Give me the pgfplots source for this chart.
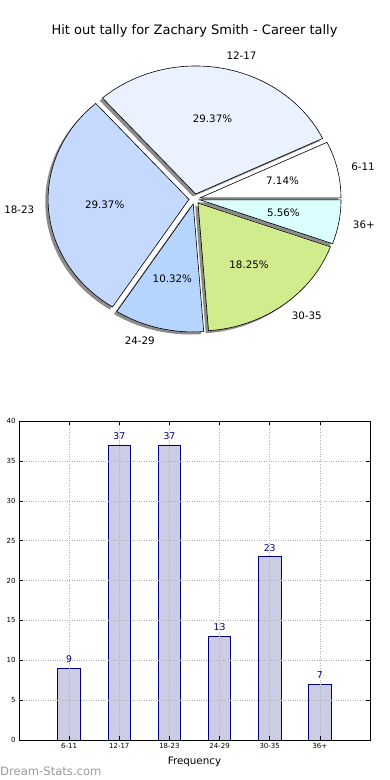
\documentclass[border=0pt]{standalone}
\usepackage{pgfplots}
\pgfplotsset{compat=1.18}
\usepackage{pgfplotstable}
\usepackage{fontspec}
\setmainfont{DejaVu Sans}
\definecolor{c611}{HTML}{FFFFFF}
\definecolor{c1217}{HTML}{EBF2FF}
\definecolor{c1823}{HTML}{C5D9FF}
\definecolor{c2429}{HTML}{B5D5FF}
\definecolor{c3035}{HTML}{D0EC8C}
\definecolor{c36}{HTML}{DBFFFF}
\definecolor{barfill}{HTML}{CCCCE5}
\definecolor{navyc}{HTML}{000080}
\definecolor{wm}{HTML}{9A9A9A}

\pgfplotstableread{
pos val
1 9
2 37
3 37
4 13
5 23
6 7
}\hitdata

\newcommand\shadowslice[2]{%
  \fill[black!45] (axis cs:{0.04*cos((#1+#2)/2)-0.02},{0.04*sin((#1+#2)/2)-0.02})
    -- (axis cs:{0.04*cos((#1+#2)/2)-0.02+cos(#1)},{0.04*sin((#1+#2)/2)-0.02+sin(#1)})
    arc[start angle=#1,end angle=#2,x radius=140.9pt,y radius=128pt] -- cycle;}
\newcommand\pieslice[3]{%
  \filldraw[fill=#3, draw=black, line width=0.6pt, line join=miter] (axis cs:{0.04*cos((#1+#2)/2)},{0.04*sin((#1+#2)/2)})
    -- (axis cs:{0.04*cos((#1+#2)/2)+cos(#1)},{0.04*sin((#1+#2)/2)+sin(#1)})
    arc[start angle=#1,end angle=#2,x radius=140.9pt,y radius=128pt] -- cycle;}
\newcommand\pielabel[5]{%
  \node[anchor=#5, inner sep=0pt, font=\fontsize{10.3}{12}\selectfont] at (axis cs:{1.14*cos((#1+#2)/2)},{1.14*sin((#1+#2)/2)}) {#3};
  \node[inner sep=0pt, font=\fontsize{10.3}{12}\selectfont] at (axis cs:{0.64*cos((#1+#2)/2)},{0.64*sin((#1+#2)/2)}) {#4};}

\begin{document}
\begin{tikzpicture}[x=1pt,y=1pt]
\path[use as bounding box] (0,0) rectangle (390,780);
\pgfplotstablegetelem{0}{val}\of\hitdata\edef\vA{\pgfplotsretval}
\pgfplotstablegetelem{1}{val}\of\hitdata\edef\vB{\pgfplotsretval}
\pgfplotstablegetelem{2}{val}\of\hitdata\edef\vC{\pgfplotsretval}
\pgfplotstablegetelem{3}{val}\of\hitdata\edef\vD{\pgfplotsretval}
\pgfplotstablegetelem{4}{val}\of\hitdata\edef\vE{\pgfplotsretval}
\pgfplotstablegetelem{5}{val}\of\hitdata\edef\vF{\pgfplotsretval}
\pgfmathsetmacro\tot{\vA+\vB+\vC+\vD+\vE+\vF}
\pgfmathsetmacro\aA{0}
\pgfmathsetmacro\aB{360*\vA/\tot}
\pgfmathsetmacro\aC{\aB+360*\vB/\tot}
\pgfmathsetmacro\aD{\aC+360*\vC/\tot}
\pgfmathsetmacro\aE{\aD+360*\vD/\tot}
\pgfmathsetmacro\aF{\aE+360*\vE/\tot}
\pgfmathsetmacro\aG{\aF+360*\vF/\tot}

\node[font=\fontsize{13}{15}\selectfont, anchor=base, inner sep=0pt] at (194.5,745.5) {Hit out tally for Zachary Smith - Career tally};

\begin{axis}[at={(0pt,380pt)}, anchor=south west, x=140.9pt, y=128pt,
  xmin=-1.3811, xmax=1.3868, ymin=-1.5703, ymax=1.5547,
  hide axis, clip=false, disabledatascaling]
\shadowslice{\aA}{\aB}
\shadowslice{\aB}{\aC}
\shadowslice{\aC}{\aD}
\shadowslice{\aD}{\aE}
\shadowslice{\aE}{\aF}
\shadowslice{\aF}{\aG}
\pieslice{\aA}{\aB}{c611}
\pieslice{\aB}{\aC}{c1217}
\pieslice{\aC}{\aD}{c1823}
\pieslice{\aD}{\aE}{c2429}
\pieslice{\aE}{\aF}{c3035}
\pieslice{\aF}{\aG}{c36}
\pielabel{\aA}{\aB}{6-11}{7.14\%}{west}
\pielabel{\aB}{\aC}{12-17}{29.37\%}{west}
\pielabel{\aC}{\aD}{18-23}{29.37\%}{east}
\pielabel{\aD}{\aE}{24-29}{10.32\%}{east}
\pielabel{\aE}{\aF}{30-35}{18.25\%}{west}
\pielabel{\aF}{\aG}{36+}{5.56\%}{west}
\end{axis}

\begin{axis}[at={(19pt,40pt)}, anchor=south west, scale only axis,
  width=351pt, height=319pt,
  xmin=0, xmax=7, ymin=0, ymax=40,
  xtick={1,2,3,4,5,6}, xticklabels={6-11,12-17,18-23,24-29,30-35,36+},
  ytick={0,5,...,40},
  xmajorgrids, ymajorgrids,
  grid style={dotted, gray!60, line width=0.5pt},
  axis on top,
  axis line style={line width=0.8pt},
  major tick style={black, line width=0.5pt},
  tick label style={font=\fontsize{7}{8}\selectfont},
  /pgf/number format/assume math mode=true,
  xlabel={Frequency},
  xlabel style={font=\fontsize{10.3}{12}\selectfont, at={(axis description cs:0.5,0)}, anchor=base, yshift=-24pt, inner sep=0pt}]
\addplot[ybar, bar width=0.45, fill=barfill, draw=navyc, line width=0.8pt,
  nodes near coords,
  nodes near coords style={font=\fontsize{9.3}{11}\selectfont, text=navyc, yshift=1.5pt}]
  table[x=pos,y=val]{\hitdata};
\end{axis}

\node[anchor=base west, inner sep=0pt, text=wm, font=\fontsize{11.6}{13}\selectfont] at (0,5) {Dream-Stats.com};
\end{tikzpicture}
\end{document}
